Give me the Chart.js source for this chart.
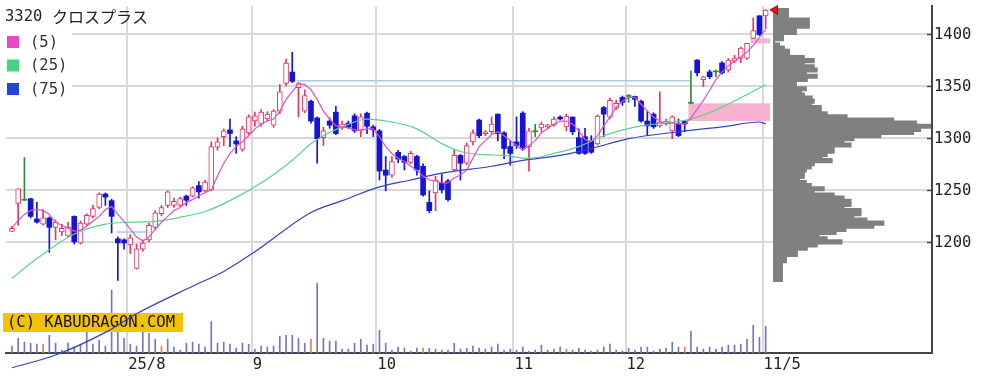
<!DOCTYPE html>
<html>
<head>
<meta charset="utf-8">
<script src="https://cdn.jsdelivr.net/npm/chart.js@4.4.1/dist/chart.umd.min.js"></script>
<style>
html, body { margin: 0; padding: 0; background: #fff; }
#wrap { position: relative; width: 999px; height: 381px; }
</style>
</head>
<body>
<div id="wrap"><canvas id="chart"></canvas></div>
<script>
// ---- data ----
var title = '3320 クロスプラス';
var monthTicks = [18.5, 38.5, 58.5, 80.5, 98.5, 120.5];
var monthLabels = ['25/8', '9', '10', '11', '12', '11/5'];
var priceTicks = [1200, 1250, 1300, 1350, 1400];

var opens = [1210,1237,1240,1241.5,1222,1217,1223,1214,1209.5,1205.7,
1224.5,1199,1217,1224.5,1233,1246,1239.6,1203,1202,1197,
1174.5,1193,1202,1214,1227,1235,1235,1235,1244,1244,
1254,1249,1250,1291,1301,1307.5,1297,1288.7,1304.7,1316,
1313,1318,1312,1325.5,1352,1363,1348,1325.5,1335,1319,
1300,1316,1324.5,1309.5,1314,1321,1306.6,1323.5,1310.4,1306.6,
1269,1264,1286,1282,1276.4,1282,1272.6,1238,1247,1256.6,
1258.5,1269,1283,1275.5,1296,1317,1303.8,1305.7,1322.6,1304.7,
1291.5,1296,1323.6,1291.5,1305.7,1309.4,1310.4,1312.3,1319.8,1310.4,
1319.8,1300,1301,1297,1294,1329,1319.8,1328.3,1338.7,1339.6,
1339.6,1335,1316,1322.6,1311.3,1313.2,1306.6,1313.2,1316,1333,
1374.5,1355.7,1363.2,1363.2,1371.7,1365,1373.6,1376.4,1376.4,1395.3,
1417,1417];

var highs = [1215,1251,1281,1242,1238,1231,1224,1221,1217,1219,
1225,1220,1227,1235,1247,1247,1241,1205,1203,1207,
1198,1202,1218,1230,1235,1249,1242,1243,1245,1253,
1258,1259,1296,1300,1308.5,1318,1301,1311,1322,1324.5,
1327,1325,1327,1351,1375.5,1382,1353,1346,1336,1320,
1310,1319,1330,1316,1316,1323,1323,1324.5,1312,1308,
1282,1282,1288,1283,1287,1283,1275,1249,1263,1265,
1260,1288,1284,1295,1307.5,1318,1307,1320,1323,1306,
1297,1320,1325,1309,1313,1315,1313,1320,1321,1322.6,
1320,1308.5,1309,1302,1322,1330,1338,1336,1340,1341.5,
1340,1336,1325.5,1324,1344,1318,1321,1318,1316,1364,
1375,1359,1365,1365,1373,1376,1379,1387,1390.6,1415,
1417,1423];

var lows = [1210,1216,1240,1223,1218,1216,1190,1202,1206,1205,
1198,1198,1216,1223,1232,1235,1208.5,1163,1193,1189,
1174,1191,1200,1212,1225,1233,1233,1234,1235,1243,
1242,1248,1249,1288,1292.5,1291.5,1285,1287,1303,1311,
1311,1316,1310,1323,1350,1353,1320,1324,1314,1275.5,
1292.5,1309,1303,1308,1309,1305,1301,1304,1301,1259.4,
1249,1262,1276,1269,1275,1264,1244,1228,1230,1247,
1239,1268,1259.4,1274,1293,1300,1302,1304,1297,1280,
1273.6,1289.6,1288,1268,1301,1305.7,1308.5,1311,1317,1306.6,
1303,1284,1284,1285,1293,1301,1318,1327,1331,1334,
1330,1315,1302,1309,1310,1312,1299,1301,1305.7,1333,
1359.4,1349,1356.6,1358.5,1361,1363,1372,1372,1375,1395.3,
1398,1404.7];

var closes = [1213,1251,1240,1224.5,1219,1223,1214,1219,1213,1214,
1200,1218,1225.5,1232,1246,1243,1224.5,1199,1199,1204,
1193.4,1199,1216,1228,1233,1248,1239,1241.5,1240,1252,
1248,1257.5,1291.5,1296,1306.6,1304,1294,1308.5,1320,1321,
1324.5,1322.6,1325.5,1344,1371.7,1354,1352,1340.5,1316,1299,
1306.6,1312,1304,1313,1310,1306.6,1320,1311,1307.5,1268,
1264,1277,1279.5,1276.4,1285,1269,1245,1230,1259.4,1250,
1240.6,1283,1275.5,1292.5,1304.7,1302,1305.7,1313.2,1303.8,1289.6,
1285,1292.5,1290.6,1306.6,1305.7,1313.2,1312.3,1318,1318,1320.8,
1305.7,1285,1285,1286,1320.8,1322.6,1335.8,1333,1334,1339.6,
1336.8,1316,1311.3,1310.4,1315,1316,1320,1302,1313.2,1333,
1362.3,1358.5,1358.5,1363.2,1362.3,1374.5,1376.4,1386,1390.6,1402.8,
1399,1422.6];

// volume, thousand shares
var volumes = [7,15,11,10,9,9,18,10,3,10,
6,9,21,9,13,7,64,21,15,9,
7,22,20,14,7,14,6,3,10,11,
9,6,32,10,11,9,5,10,9,4,
7,6,7,17,18,18,15,10,14,71,
15,12,12,4,4,10,14,8,9,23,
10,3,6,5,2,5,5,5,4,3,
3,10,4,5,7,5,4,6,9,3,
4,3,6,2,3,8,3,4,6,4,
3,5,3,2,3,6,9,3,2,5,
3,6,6,2,4,5,11,6,6,22,
6,4,6,4,6,8,8,9,14,28,
16,27];
var redVolumeDays = [5, 24, 48, 66, 89, 108];

var ma5 = [1213.2,1220.7,1226.4,1230.2,1231.1,1230.2,1226.4,1218.9,1216.0,1213.2,
1210.4,1211.3,1215.1,1219.8,1224.5,1231.1,1233.9,1226.4,1219.8,1212.3,
1204.7,1200.9,1204.7,1212.3,1218.9,1224.5,1230.2,1233.0,1237.7,1240.6,
1244.3,1247.2,1250.0,1263.2,1275.5,1284.9,1291.5,1296.2,1301.9,1308.5,
1313.2,1316.0,1317.9,1325.5,1336.8,1344.3,1351.9,1350.9,1346.2,1336.8,
1325.5,1317.9,1311.3,1310.4,1309.4,1307.5,1307.5,1308.5,1308.5,1300.9,
1291.5,1284.9,1280.2,1277.4,1272.6,1268.9,1263.2,1259.4,1258.5,1256.6,
1256.6,1261.3,1264.2,1268.9,1280.2,1291.5,1297.2,1302.8,1305.7,1301.9,
1297.2,1292.5,1287.7,1292.5,1297.2,1304.7,1308.5,1313.2,1316.0,1316.0,
1313.2,1306.6,1298.1,1296.2,1301.9,1311.3,1319.8,1329.3,1334.9,1338.7,
1338.7,1332.1,1325.5,1319.8,1316.0,1313.2,1314.2,1313.2,1313.2,1318.9,
1327.4,1335.9,1345.3,1355.7,1363.2,1368.9,1373.6,1377.4,1382.1,1388.7,
1396.2,1403.8];

var ma25Days = [0,4,10,15,19,23,27,31,35,41,45,48,50,53,57,61,65,69,72,75,79,83,87,91,95,101,105,109,114,118,121];
var ma25 = [1165.1,1184.0,1207.6,1217.0,1218.9,1219.8,1223.6,1229.2,1239.6,1260.4,1278.3,1294.3,1301.9,1310.4,1317.9,1315.1,1308.5,1294.3,1286.8,1284.0,1283.0,1280.2,1284.9,1291.5,1301.9,1311.3,1314.2,1317.9,1329.3,1341.5,1350.9];

var ma75Days = [0,7,15,20,29,34,39,48,53,59,64,69,77,82,88,93,99,107,114,120,121];
var ma75 = [1079.2,1091.5,1113.2,1131.1,1157.5,1171.7,1190.6,1228.3,1239.6,1252.8,1259.4,1266.0,1272.6,1278.3,1283.0,1289.6,1299.1,1305.7,1310.4,1315.1,1313.2];

// price-by-volume, bins of 3 yen from the top
var profileTop = 1422, profileStep = 3;
var profileVolumes = [14,14,14,35,35,35,22,22,9,9,
0,5,10,15,15,30,40,30,40,43,
32,43,33,22,22,32,27,30,38,40,
37,47,47,53,73,120,143,157,147,140,
107,80,70,77,60,60,53,48,58,40,
37,32,30,30,25,32,37,50,40,60,
70,77,77,70,87,87,80,93,110,100,
72,62,45,53,68,43,33,23,23,12,
12,8,8,8,8,8,8];

// open gaps (day the gap opened, low, high) and level lines
var gaps = [{ day: 109, low: 1316, high: 1333 }, { day: 119, low: 1390.6, high: 1395.3 }];
var levelLines = [{ from: 45.8, to: 108.8, price: 1354.7 }, { from: 16.9, to: 22.3, price: 1209.4 }];

var legendLabels = ['(5)', '(25)', '(75)'];
var legendColors = ['#ee46c8', '#46d27f', '#2444dc'];

// ---- build datasets ----
var last = closes.length - 1;
var wickData = [], bodyData = [], volData = [];
for (var i = 0; i < closes.length; i++) {
    wickData.push({ x: i, y: [lows[i], highs[i]] });
    bodyData.push({ x: i, y: [Math.min(opens[i], closes[i]), Math.max(opens[i], closes[i])] });
    volData.push({ x: i, y: volumes[i] });
}
var ma5Data = ma5.map(function (v, i) { return { x: i, y: v }; });
var ma25Data = ma25.map(function (v, k) { return { x: ma25Days[k], y: v }; });
var ma75Data = ma75.map(function (v, k) { return { x: ma75Days[k], y: v }; });
var profileData = profileVolumes.map(function (v, k) { return { x: v, y: profileTop - k * profileStep }; });

function candleColor(i) {
    if (opens[i] === closes[i]) return '#2e8b2e';
    return closes[i] > opens[i] ? '#e6335f' : '#1414d6';
}

var FONT = "'DejaVu Sans Mono', monospace";
Chart.defaults.font.family = FONT;
Chart.defaults.font.size = 15.5;

var datasets = [
    {
        type: 'bar', label: 'volume', data: volData, yAxisID: 'yv', grouped: false,
        barThickness: 1, borderWidth: 0, order: 20,
        backgroundColor: function (c) { return redVolumeDays.indexOf(c.dataIndex) >= 0 ? '#e07a6c' : '#7474cc'; }
    }
];
levelLines.forEach(function (l) {
    datasets.push({
        type: 'line', data: [{ x: l.from, y: l.price }, { x: l.to, y: l.price }],
        borderColor: '#a9c9e8', borderWidth: 1.5, pointRadius: 0, order: 18
    });
});
datasets.push(
    {
        type: 'bar', label: 'profile', data: profileData, indexAxis: 'y', xAxisID: 'xp', yAxisID: 'yp',
        grouped: false, barPercentage: 1, categoryPercentage: 1, inflateAmount: 1,
        backgroundColor: '#808080', borderWidth: 0, order: 17
    },
    {
        type: 'bar', label: 'wick', data: wickData, grouped: false, barThickness: 1, borderWidth: 0, order: 15,
        backgroundColor: function (c) { return candleColor(c.dataIndex); }
    },
    {
        type: 'bar', label: 'body', data: bodyData, grouped: false, barThickness: 5, minBarLength: 1,
        borderSkipped: false, order: 14,
        backgroundColor: function (c) { var i = c.dataIndex; return closes[i] > opens[i] ? '#ffffff' : candleColor(i); },
        borderColor: function (c) { return candleColor(c.dataIndex); },
        borderWidth: function (c) { var i = c.dataIndex; return closes[i] > opens[i] ? 1 : 0; }
    },
    {
        type: 'line', label: '(75)', data: ma75Data, borderColor: '#3440c4', borderWidth: 1.2,
        pointRadius: 0, cubicInterpolationMode: 'monotone', clip: false, order: 12
    },
    {
        type: 'line', label: '(25)', data: ma25Data, borderColor: '#5cd08c', borderWidth: 1.2,
        pointRadius: 0, cubicInterpolationMode: 'monotone', order: 11
    },
    {
        type: 'line', label: '(5)', data: ma5Data, borderColor: '#e052c4', borderWidth: 1.2,
        pointRadius: 0, order: 10
    },
    {
        type: 'line', label: 'last', data: [{ x: last + 1.5, y: closes[last] }], showLine: false,
        pointStyle: 'triangle', rotation: -90, pointRadius: 5, pointBackgroundColor: '#e8161e',
        pointBorderColor: '#8c0a0a', pointBorderWidth: 1, clip: false, order: 0
    }
);

// gaps, watermark, title, legend
var overlay = {
    id: 'overlay',
    beforeDatasetsDraw: function (chart) {
        var c = chart.ctx, xs = chart.scales.x, ys = chart.scales.y;
        c.save();
        c.fillStyle = '#f6b2ce';
        gaps.forEach(function (g) {
            var x0 = xs.getPixelForValue(g.day - 0.4), x1 = xs.getPixelForValue(last + 0.7);
            var y0 = ys.getPixelForValue(g.high), y1 = ys.getPixelForValue(g.low);
            c.fillRect(x0, y0, x1 - x0, y1 - y0);
        });
        c.restore();
    },
    afterDatasetDraw: function (chart, args) {
        if (args.index !== 0) return;
        var c = chart.ctx;
        c.save();
        c.fillStyle = '#f4c300';
        c.fillRect(3, 313, 180, 19);
        c.fillStyle = '#111';
        c.font = '15.5px ' + FONT;
        c.textBaseline = 'middle';
        c.fillText('(C) KABUDRAGON.COM', 7, 323);
        c.restore();
    },
    afterDraw: function (chart) {
        var c = chart.ctx, ys = chart.scales.y, right = chart.chartArea.right;
        c.save();
        // inward tick marks on the price axis
        c.strokeStyle = '#444';
        c.lineWidth = 1.5;
        priceTicks.forEach(function (p) {
            var y = Math.round(ys.getPixelForValue(p)) + 0.5;
            c.beginPath(); c.moveTo(right - 5, y); c.lineTo(right, y); c.stroke();
        });
        // title
        var parts = title.split(' ');
        c.fillStyle = '#222';
        c.textBaseline = 'middle';
        c.font = '15.5px ' + FONT;
        c.fillText(parts[0], 5, 17);
        c.font = "16px 'Noto Sans CJK JP'";
        c.fillText(parts[1], 52, 17);
        // legend
        c.fillStyle = '#fff';
        c.fillRect(0, 30, 72, 70);
        c.font = '15.5px ' + FONT;
        legendLabels.forEach(function (t, k) {
            var y = 36 + k * 23.5;
            c.fillStyle = legendColors[k];
            c.fillRect(7, y, 12, 12);
            c.fillStyle = '#333';
            c.fillText(t, 30, y + 6.5);
        });
        c.restore();
    }
};

new Chart(document.getElementById('chart'), {
    type: 'bar',
    data: { datasets: datasets },
    options: {
        responsive: true,
        maintainAspectRatio: false,
        animation: false,
        events: [],
        layout: { padding: 0 },
        plugins: { legend: { display: false }, tooltip: { enabled: false } },
        scales: {
            x: {
                type: 'linear', min: -0.957, max: 147.7, offset: false,
                afterBuildTicks: function (s) { s.ticks = monthTicks.map(function (v) { return { value: v }; }); },
                afterFit: function (s) { s.height = 28; s.paddingLeft = 0; s.paddingRight = 0; },
                grid: { color: '#d9d9d9', lineWidth: 2, drawTicks: false, offset: false },
                border: { color: '#444', width: 2 },
                ticks: {
                    align: 'start', labelOffset: 1, padding: 3, color: '#222', autoSkip: false, maxRotation: 0,
                    callback: function (v, idx) { return monthLabels[idx]; }
                }
            },
            y: {
                type: 'linear', position: 'right', min: 1093.4, max: 1426.4,
                afterBuildTicks: function (s) { s.ticks = priceTicks.map(function (v) { return { value: v }; }); },
                afterFit: function (s) { s.width = 67; s.paddingTop = 0; s.paddingBottom = 0; },
                grid: { color: '#d9d9d9', lineWidth: 2, drawTicks: false },
                border: { color: '#444', width: 2 },
                ticks: { padding: 2, labelOffset: 1, color: '#222', callback: function (v) { return String(v); } }
            },
            yv: { type: 'linear', display: false, min: 0, max: 353 },
            yp: { type: 'linear', display: false, min: 1093.4, max: 1426.4, offset: false },
            xp: { type: 'linear', display: false, min: -773, max: 159, offset: false }
        }
    },
    plugins: [overlay]
});
</script>
</body>
</html>
